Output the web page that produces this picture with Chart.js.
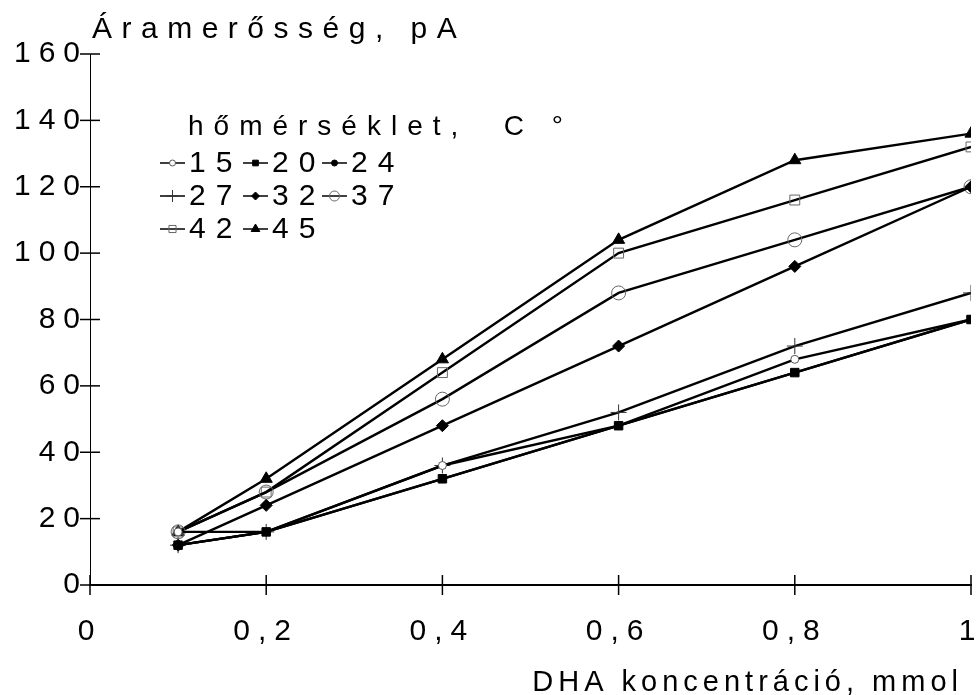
<!DOCTYPE html>
<html>
<head>
<meta charset="utf-8">
<script src="https://cdn.jsdelivr.net/npm/chart.js@4"></script>
<style>
  html, body { margin: 0; background: #fff; }
  #wrap { width: 980px; height: 695px; }
</style>
</head>
<body>
<div id="wrap"><canvas id="chart"></canvas></div>
<script>
// DHA concentration (mmol) and current (pA) per temperature
const concentrations = [0.1, 0.2, 0.4, 0.6, 0.8, 1.0];
const temperatures = ['15', '20', '24', '27', '32', '37', '42', '45'];
const current15 = [16, 16, 36, 48, 68, 80];
const current20 = [12, 16, 32, 48, 64, 80];
const current24 = [12, 16, 32, 48, 64, 80];
const current27 = [12, 16, 36, 52, 72, 88];
const current32 = [12, 24, 48, 72, 96, 120];
const current37 = [16, 28, 56, 88, 104, 120];
const current42 = [16, 28, 64, 100, 116, 132];
const current45 = [16, 32, 68, 104, 128, 136];
const xTicks = ['0', '0,2', '0,4', '0,6', '0,8', '1'];
const yTicks = [0, 20, 40, 60, 80, 100, 120, 140, 160];

const FONT = "'Liberation Sans', Arial, sans-serif";
const allSeries = [current15, current20, current24, current27, current32, current37, current42, current45];

// marker look for each temperature
const markers = [
  { pointStyle: 'circle',   radius: 4, fill: '#fff', border: '#555', bw: 1 },
  { pointStyle: 'rect',     radius: 6, fill: '#000', border: '#000', bw: 1 },
  { pointStyle: 'circle',   radius: 3, fill: '#000', border: '#000', bw: 1 },
  { pointStyle: 'cross',    radius: 8, fill: '#000', border: '#333', bw: 1 },
  { pointStyle: 'rectRot',  radius: 6, fill: '#000', border: '#000', bw: 1 },
  { pointStyle: 'circle',   radius: 7, fill: 'rgba(0,0,0,0)', border: '#666', bw: 1 },
  { pointStyle: 'rect',     radius: 7, fill: 'rgba(0,0,0,0)', border: '#666', bw: 1 },
  { pointStyle: 'triangle', radius: 7, fill: '#000', border: '#000', bw: 1 }
];

const datasets = temperatures.map((t, i) => ({
  label: t,
  data: concentrations.map((c, j) => ({ x: c, y: allSeries[i][j] })),
  order: i === 1 ? 0 : 1, // filled squares sit on top
  borderColor: '#000',
  borderWidth: 2.4,
  tension: 0,
  pointStyle: markers[i].pointStyle,
  pointRadius: markers[i].radius,
  pointBackgroundColor: markers[i].fill,
  pointBorderColor: markers[i].border,
  pointBorderWidth: markers[i].bw
}));

// canvas letter spacing (reset by chart resizes, so set it each pass)
const spacing = {
  id: 'spacing',
  beforeUpdate(chart) { chart.ctx.letterSpacing = '8px'; },
  beforeDraw(chart) { chart.ctx.letterSpacing = '8px'; }
};

// ticks crossing the axes, axis titles and the legend block
const extras = {
  id: 'extras',
  afterDraw(chart) {
    const ctx = chart.ctx;
    const area = chart.chartArea;
    const xs = chart.scales.x, ys = chart.scales.y;
    ctx.save();
    ctx.strokeStyle = '#000';
    ctx.lineWidth = 1.5;
    xs.ticks.forEach(t => {
      const px = xs.getPixelForValue(t.value);
      ctx.beginPath();
      ctx.moveTo(px, area.bottom - 10);
      ctx.lineTo(px, area.bottom + 10);
      ctx.stroke();
    });
    ys.ticks.forEach(t => {
      const py = ys.getPixelForValue(t.value);
      ctx.beginPath();
      ctx.moveTo(area.left - 10, py);
      ctx.lineTo(area.left + 10, py);
      ctx.stroke();
    });

    ctx.fillStyle = '#000';
    ctx.textBaseline = 'middle';
    ctx.textAlign = 'left';
    ctx.font = '30px ' + FONT;
    ctx.letterSpacing = '9.5px';
    ctx.fillText('Áramerősség, pA', area.left + 2, 30);
    ctx.font = '28px ' + FONT;
    ctx.letterSpacing = '10px';
    ctx.fillText('hőmérséklet,  C °', area.left + 98, 127);

    ctx.textAlign = 'right';
    ctx.font = '29px ' + FONT;
    ctx.letterSpacing = '5px';
    ctx.fillText('DHA koncentráció, mmol', area.right - 8, 683);

    ctx.textAlign = 'left';
    ctx.font = '30px ' + FONT;
    ctx.letterSpacing = '10px';
    const colX = [160, 243, 322];
    chart.data.datasets.forEach((ds, i) => {
      const row = Math.floor(i / 3), col = i % 3;
      const x0 = colX[col];
      const y = 163 + row * 33;
      ctx.strokeStyle = '#000';
      ctx.lineWidth = 1.5;
      ctx.beginPath();
      ctx.moveTo(x0, y);
      ctx.lineTo(x0 + 25, y);
      ctx.stroke();
      const m = markers[i];
      ctx.fillStyle = m.fill;
      ctx.strokeStyle = m.border;
      ctx.lineWidth = m.bw;
      Chart.helpers.drawPoint(ctx, {
        pointStyle: m.pointStyle,
        radius: Math.max(3, m.radius - 2),
        rotation: 0,
        borderWidth: m.bw
      }, x0 + 12.5, y);
      ctx.fillStyle = '#000';
      ctx.fillText(ds.label, x0 + 29, y + 1);
    });
    ctx.restore();
  }
};

new Chart(document.getElementById('chart'), {
  type: 'line',
  data: { datasets: datasets },
  options: {
    responsive: true,
    maintainAspectRatio: false,
    animation: false,
    layout: { padding: { top: 54, right: 4, left: 0, bottom: 0 } },
    plugins: {
      legend: { display: false },
      tooltip: { enabled: false }
    },
    scales: {
      x: {
        type: 'linear',
        min: 0,
        max: 1,
        afterBuildTicks(scale) {
          scale.ticks = xTicks.map((_, i) => ({ value: i * 0.2 }));
        },
        afterFit(scale) {
          scale.height = 110;
          scale.paddingLeft = 0;
          scale.paddingRight = 0;
        },
        ticks: {
          color: '#000',
          font: { family: FONT, size: 30 },
          padding: 29,
          maxRotation: 0,
          autoSkip: false,
          callback: (v, i) => xTicks[i]
        },
        grid: { display: true, drawOnChartArea: false, drawTicks: false },
        border: { color: '#000', width: 2 }
      },
      y: {
        min: 0,
        max: 160,
        afterBuildTicks(scale) {
          scale.ticks = yTicks.map(v => ({ value: v }));
        },
        afterFit(scale) {
          scale.width = 90;
        },
        ticks: {
          color: '#000',
          font: { family: FONT, size: 30 },
          padding: 2,
          autoSkip: false
        },
        grid: { display: true, drawOnChartArea: false, drawTicks: false },
        border: { color: '#000', width: 1 }
      }
    }
  },
  plugins: [spacing, extras]
});
</script>
</body>
</html>
